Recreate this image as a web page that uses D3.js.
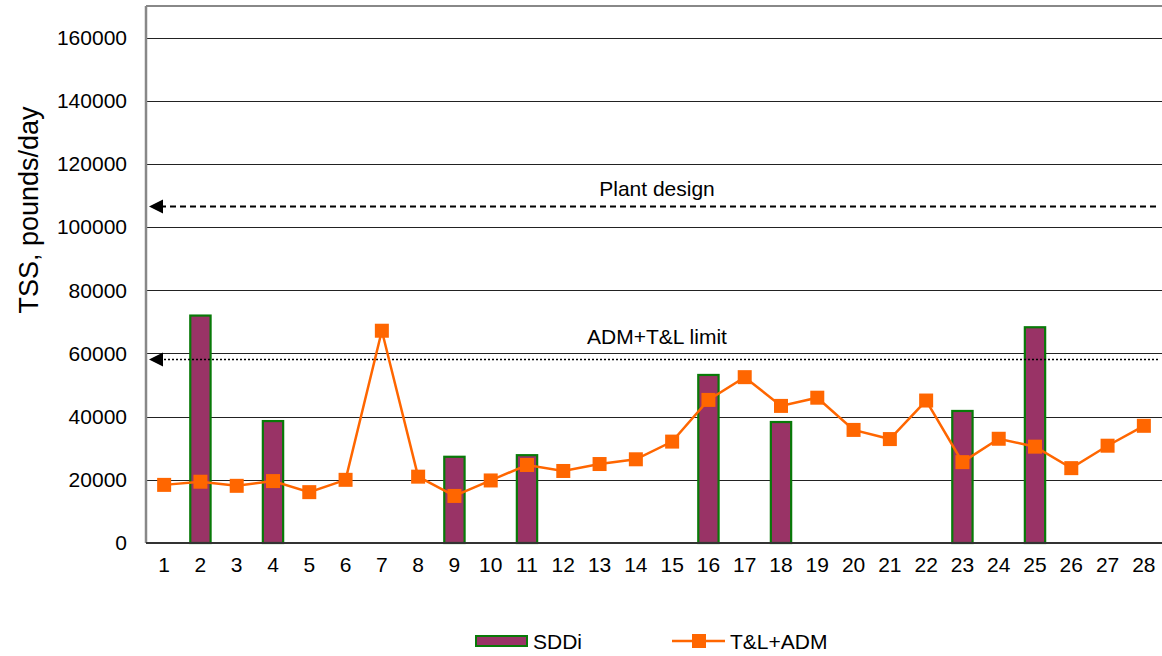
<!DOCTYPE html>
<html>
<meta charset="utf-8">
<head>
<title>TSS loads</title>
<script src="https://d3js.org/d3.v7.min.js"></script>
<style>
body { margin:0; background:#fff; }
text { font-family: "Liberation Sans", Arial, sans-serif; fill:#000; }
</style>
</head>
<body>
<div id="plot"></div>
<script>

// data
var days = d3.range(1, 29);
var sddiDays = [2, 4, 9, 11, 16, 18, 23, 25];
var sddiValues = [72000, 38600, 27300, 27800, 53200, 38300, 41800, 68300];
var tlAdm = [18400, 19400, 18100, 19600, 16100, 20000, 67200, 21000, 14900, 19800,
             24700, 22800, 25000, 26500, 32100, 45300, 52500, 43400, 46000, 35800,
             32900, 45100, 25600, 33000, 30500, 23700, 30800, 37100];
var yTicks = [0, 20000, 40000, 60000, 80000, 100000, 120000, 140000, 160000];
var plantDesign = 106800;
var admLimit = 58400;

var margin = { top: 6, right: 0, bottom: 113, left: 146 };
var width = 1162 - margin.left - margin.right;
var height = 656 - margin.top - margin.bottom;

var svg = d3.select("#plot").append("svg")
	.attr("width", 1162)
	.attr("height", 656);

var g = svg.append("g")
	.attr("transform", "translate(" + margin.left + "," + margin.top + ")");

var xScale = d3.scaleBand()
	.domain(days)
	.range([0, width]);

var yScale = d3.scaleLinear()
	.domain([0, 170000])
	.range([height, 0]);

// gridlines
g.append("g")
	.selectAll("line")
	.data(yTicks.slice(1))
	.enter()
	.append("line")
	.attr("x1", 0)
	.attr("x2", width)
	.attr("y1", function(d){ return Math.round(yScale(d)) + 0.5; })
	.attr("y2", function(d){ return Math.round(yScale(d)) + 0.5; })
	.attr("stroke", "#222")
	.attr("stroke-width", 1);

// frame top
g.append("line")
	.attr("x1", 0).attr("x2", width)
	.attr("y1", 0).attr("y2", 0)
	.attr("stroke", "#888").attr("stroke-width", 2);

// y axis
var yAxis = d3.axisLeft(yScale).tickValues(yTicks).tickSize(0).tickPadding(19).tickFormat(d3.format("d"));
var yg = g.append("g").call(yAxis);
yg.select(".domain").remove();
yg.selectAll("text").style("font-size", "21px").attr("font-family", "Liberation Sans, Arial, sans-serif");

g.append("line")
	.attr("x1", 0).attr("x2", 0)
	.attr("y1", 0).attr("y2", height)
	.attr("stroke", "#888").attr("stroke-width", 2.5);

// x axis
var xAxis = d3.axisBottom(xScale).tickSize(0).tickPadding(14);
var xg = g.append("g").attr("transform", "translate(0," + height + ")").call(xAxis);
xg.select(".domain").remove();
xg.selectAll("text").style("font-size", "21px").attr("font-family", "Liberation Sans, Arial, sans-serif");

// bars
var barW = xScale.bandwidth() * 0.56;
g.append("g")
	.selectAll("rect")
	.data(sddiDays)
	.enter()
	.append("rect")
	.attr("x", function(d){ return xScale(d) + (xScale.bandwidth() - barW) / 2; })
	.attr("y", function(d, i){ return yScale(sddiValues[i]); })
	.attr("width", barW)
	.attr("height", function(d, i){ return height - yScale(sddiValues[i]); })
	.attr("fill", "#993366")
	.attr("stroke", "#087a08")
	.attr("stroke-width", 2.2);

// baseline
g.append("line")
	.attr("x1", 0).attr("x2", width)
	.attr("y1", height).attr("y2", height)
	.attr("stroke", "#333").attr("stroke-width", 2);

// reference lines
function refLine(value, dash, label, labelY) {
	var y = Math.round(yScale(value)) + 0.5;
	g.append("line")
		.attr("x1", 14).attr("x2", width - 2)
		.attr("y1", y).attr("y2", y)
		.attr("stroke", "#000")
		.attr("stroke-width", dash == "2,2" ? 1.5 : 2)
		.attr("stroke-dasharray", dash);
	g.append("path")
		.attr("d", "M3," + y + "L17," + (y - 7) + "L17," + (y + 7) + "Z")
		.attr("fill", "#000");
	g.append("text")
		.attr("x", 511)
		.attr("y", y - labelY)
		.attr("text-anchor", "middle")
		.style("font-size", "21px")
		.text(label);
}
refLine(plantDesign, "6,4", "Plant design", 11);
refLine(admLimit, "2,2", "ADM+T&L limit", 16);

// line series
var line = d3.line()
	.x(function(d, i){ return xScale(days[i]) + xScale.bandwidth() / 2; })
	.y(function(d){ return yScale(d); });

g.append("path")
	.datum(tlAdm)
	.attr("d", line)
	.attr("fill", "none")
	.attr("stroke", "#ff6600")
	.attr("stroke-width", 2.5);

g.append("g")
	.selectAll("rect")
	.data(tlAdm)
	.enter()
	.append("rect")
	.attr("x", function(d, i){ return xScale(days[i]) + xScale.bandwidth() / 2 - 7; })
	.attr("y", function(d){ return yScale(d) - 7; })
	.attr("width", 14)
	.attr("height", 14)
	.attr("fill", "#ff6600");

// legend
var lg = svg.append("g");
lg.append("rect")
	.attr("x", 476).attr("y", 636).attr("width", 51).attr("height", 10)
	.attr("fill", "#993366").attr("stroke", "#087a08").attr("stroke-width", 2);
lg.append("text").attr("x", 533).attr("y", 649).style("font-size", "21px").text("SDDi");
lg.append("line")
	.attr("x1", 672).attr("x2", 725).attr("y1", 641).attr("y2", 641)
	.attr("stroke", "#ff6600").attr("stroke-width", 2.5);
lg.append("rect")
	.attr("x", 692).attr("y", 634).attr("width", 14).attr("height", 14)
	.attr("fill", "#ff6600");
lg.append("text").attr("x", 730).attr("y", 649).style("font-size", "21px").text("T&L+ADM");

// y label
svg.append("text")
	.attr("transform", "translate(38," + 210 + ") rotate(-90)")
	.attr("text-anchor", "middle")
	.style("font-size", "27px")
	.text("TSS, pounds/day");

</script>
</body>
</html>
